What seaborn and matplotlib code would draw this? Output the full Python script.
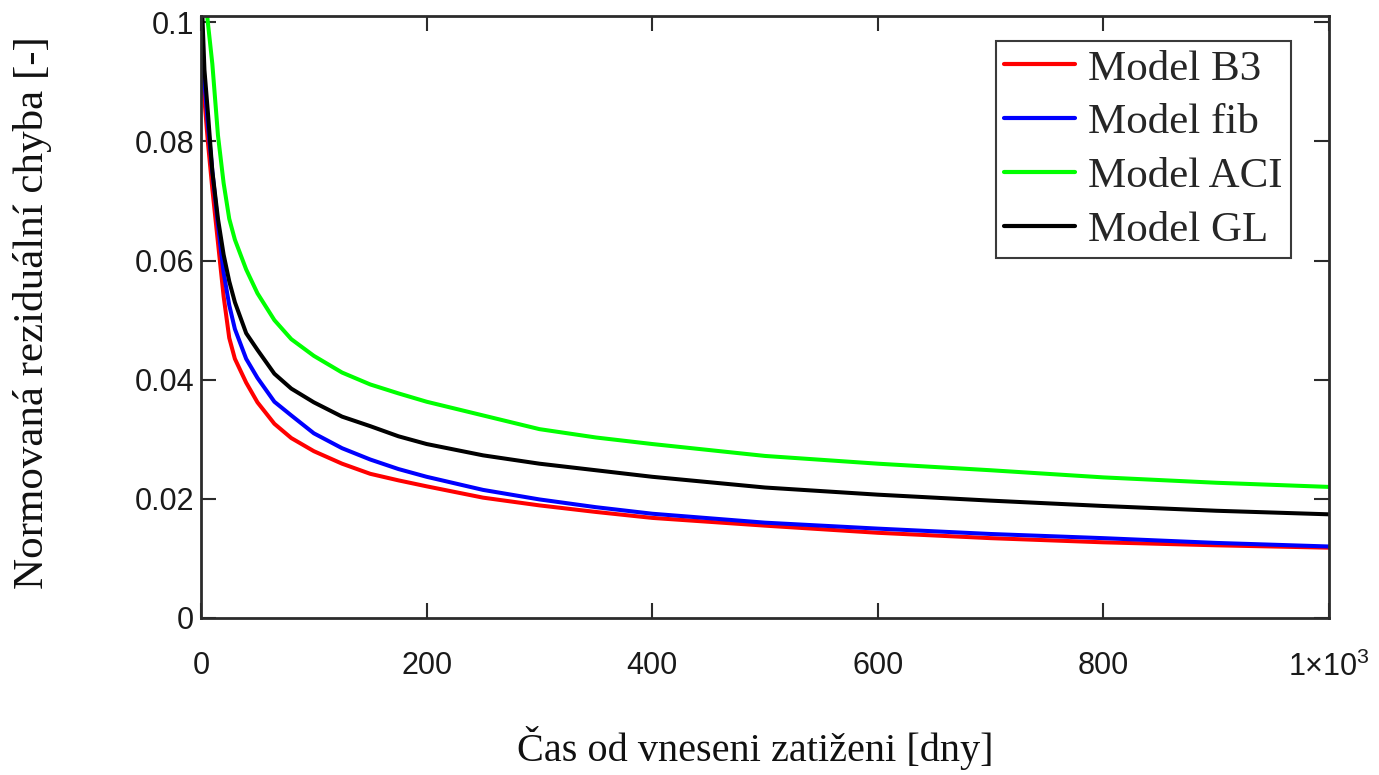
import numpy as np
import pandas as pd
import matplotlib
matplotlib.use('Agg')
import matplotlib.pyplot as plt
import seaborn as sns

# values
days = [1, 3, 6, 10, 15, 20, 25, 30, 40, 50, 65, 80, 100, 125, 150, 175,
        200, 250, 300, 350, 400, 500, 600, 700, 800, 900, 1000]

b3 = [0.092, 0.087, 0.080, 0.072, 0.063, 0.054, 0.047, 0.0435, 0.0395, 0.0362,
      0.0326, 0.0302, 0.0280, 0.0259, 0.0242, 0.0231, 0.0221, 0.0202, 0.0189,
      0.0178, 0.0168, 0.0155, 0.0143, 0.0134, 0.0127, 0.0122, 0.0118]
fib = [0.097, 0.090, 0.083, 0.075, 0.066, 0.058, 0.0525, 0.0485, 0.0435, 0.0403,
       0.0363, 0.0340, 0.0310, 0.0285, 0.0266, 0.0250, 0.0237, 0.0215, 0.0199,
       0.0186, 0.0175, 0.0160, 0.0150, 0.0141, 0.0134, 0.0126, 0.0120]
aci = [0.110, 0.106, 0.100, 0.093, 0.081, 0.073, 0.067, 0.0635, 0.0585, 0.0545,
       0.0500, 0.0468, 0.0440, 0.0412, 0.0392, 0.0377, 0.0363, 0.0340, 0.0317,
       0.0303, 0.0292, 0.0272, 0.0259, 0.0248, 0.0236, 0.0227, 0.0220]
gl = [0.102, 0.092, 0.085, 0.075, 0.067, 0.061, 0.0565, 0.053, 0.0478, 0.0450,
      0.0410, 0.0385, 0.0362, 0.0338, 0.0322, 0.0305, 0.0292, 0.0273, 0.0259,
      0.0248, 0.0237, 0.0219, 0.0207, 0.0197, 0.0188, 0.0180, 0.0174]

models = ['Model B3', 'Model fib', 'Model ACI', 'Model GL']
colors = ['#ff0000', '#0000ff', '#00ff00', '#000000']

x_ticks = [0, 200, 400, 600, 800, 1000]
x_ticklabels = ['0', '200', '400', '600', '800', '1×10$^{3}$']
y_ticks = [0, 0.02, 0.04, 0.06, 0.08, 0.1]
y_ticklabels = ['0', '0.02', '0.04', '0.06', '0.08', '0.1']

df = pd.concat([
    pd.DataFrame({'t': days, 'err': vals, 'model': name})
    for name, vals in zip(models, [b3, fib, aci, gl])
], ignore_index=True)

sns.set_style('ticks')
plt.rcParams['font.family'] = ['Liberation Sans', 'DejaVu Sans']
plt.rcParams['mathtext.fontset'] = 'custom'
plt.rcParams['mathtext.rm'] = 'Liberation Sans'
plt.rcParams['mathtext.default'] = 'rm'

fig = plt.figure(figsize=(13.79, 7.75), dpi=100)
ax = fig.add_axes([0.1458, 0.2026, 0.8179, 0.7764])

sns.lineplot(data=df, x='t', y='err', hue='model', hue_order=models,
             palette=dict(zip(models, colors)), linewidth=2.9, ax=ax,
             estimator=None, sort=True)

ax.set_xlim(0, 1000)
ax.set_ylim(0, 0.101)
ax.set_xticks(x_ticks)
ax.set_xticklabels(x_ticklabels)
ax.set_yticks(y_ticks)
ax.set_yticklabels(y_ticklabels)

ax.tick_params(axis='both', direction='in', length=11, width=1.5,
               colors='#2b2b2b', labelcolor='#1a1a1a', labelsize=22,
               top=True, right=True)
ax.tick_params(axis='x', pad=24)
ax.tick_params(axis='y', pad=5)
for s in ax.spines.values():
    s.set_color('#2b2b2b')
    s.set_linewidth(2)

serif = ['Liberation Serif', 'DejaVu Serif']
ax.set_xlabel('Čas od vneseni zatiženi [dny]', fontsize=29, family=serif,
              color='#111111')
ax.set_ylabel('Normovaná reziduální chyba [-]', fontsize=31, family=serif,
              color='#111111')
ax.xaxis.set_label_coords(0.491, -0.18)
ax.yaxis.set_label_coords(-0.132, 0.508)

leg = ax.legend(loc='upper right', bbox_to_anchor=(0.9663, 0.9585),
                borderaxespad=0, prop={'family': serif, 'size': 31},
                handlelength=1.65, handletextpad=0.3, labelspacing=0.34,
                borderpad=0.19, fancybox=False, framealpha=1,
                edgecolor='#3a3a3a')
leg.get_frame().set_linewidth(1.5)
for line in leg.get_lines():
    line.set_linewidth(3)

fig.savefig('out.png', dpi=100)
